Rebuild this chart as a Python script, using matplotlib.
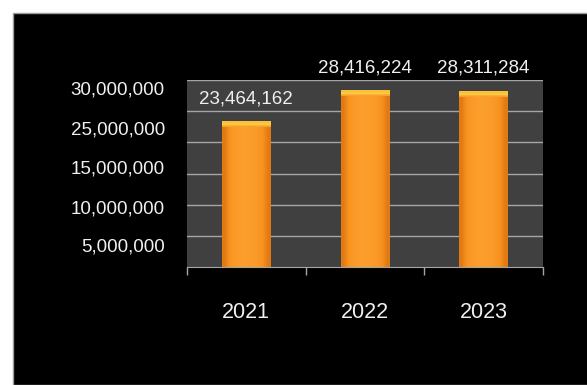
import matplotlib.pyplot as plt
from matplotlib.patches import Rectangle
from matplotlib.colors import LinearSegmentedColormap
import numpy as np

plt.rcParams['font.family'] = ['Liberation Sans', 'DejaVu Sans']

years = ['2021', '2022', '2023']
values = [23464162, 28416224, 28311284]
value_labels = ['23,464,162', '28,416,224', '28,311,284']
grid_levels = [5000000, 10000000, 15000000, 20000000, 25000000, 30000000]
# the y labels in the picture sit off the gridlines, read where they are drawn
ytick_pos = [28700000, 22300000, 16000000, 9600000, 3500000]
ytick_labels = ['30,000,000', '25,000,000', '15,000,000', '10,000,000', '5,000,000']

fig = plt.figure(figsize=(5.87, 3.85), dpi=100, facecolor='white')
fig.patches.append(Rectangle((13 / 587, 0), 1, 1 - 12.5 / 385, transform=fig.transFigure,
                             facecolor='black', edgecolor='#9a9a9a', linewidth=1, zorder=-10))

ax = fig.add_axes([187 / 587, 1 - 267 / 385, 356 / 587, 187 / 385])
ax.set_facecolor('#404040')

x = np.arange(len(years))
width = 0.41
bars = ax.bar(x, values, width=width, color='#f7931e', zorder=3)

# soft horizontal shading inside each bar
shade = np.array([[0.0, 0.6, 0.85, 1.0, 1.0, 0.95, 0.8, 0.5, 0.0]])
cmap = LinearSegmentedColormap.from_list('o', ['#e27a14', '#f7921f', '#fc9e2c'])
for b in bars:
    x0, y0 = b.get_x(), b.get_y()
    im = ax.imshow(shade, cmap=cmap, aspect='auto', interpolation='bilinear',
                   extent=[x0, x0 + b.get_width(), y0, y0 + b.get_height()], zorder=4)
    im.set_clip_path(b)

# yellow rounded top of each bar
cap = 1000000
cap_cmap = LinearSegmentedColormap.from_list('c', ['#f9a12c', '#ffd148', '#fbbf3a'])
caps = ax.bar(x, [cap] * len(values), bottom=[v - cap for v in values], width=width,
              color='none', zorder=5)
for b in caps:
    x0, y0 = b.get_x(), b.get_y()
    grad = np.array([[0.0], [0.6], [1.0], [0.85]])
    im = ax.imshow(grad, cmap=cap_cmap, aspect='auto', interpolation='bilinear', origin='lower',
                   extent=[x0, x0 + b.get_width(), y0, y0 + b.get_height()], zorder=5)
    im.set_clip_path(b)

for xi, v, lab in zip(x, values, value_labels):
    ax.annotate(lab, (xi, v), xytext=(0, 16), textcoords='offset points', ha='center',
                va='center', color='#f0f0f0', fontsize=13.5, annotation_clip=False)

ax.set_xlim(-0.5, 2.5)
ax.set_ylim(0, 30000000)

ax.set_yticks(grid_levels, minor=True)
ax.grid(axis='y', which='minor', color='#a6a6a6', linewidth=1, zorder=1)
ax.set_yticks(ytick_pos, ytick_labels)
ax.tick_params(axis='y', which='both', length=0, pad=16, labelsize=13.5, labelcolor='#f0f0f0')

ax.set_xticks(x, years)
ax.set_xticks([-0.5, 0.5, 1.5, 2.5], minor=True)
ax.tick_params(axis='x', which='major', length=0, pad=25, labelsize=15.5, labelcolor='#f0f0f0')
ax.tick_params(axis='x', which='minor', length=6, width=1, color='#a6a6a6', direction='out')

for s in ['left', 'right', 'top']:
    ax.spines[s].set_visible(False)
ax.spines['bottom'].set_color('#a6a6a6')
ax.spines['bottom'].set_zorder(6)

fig.savefig('out.png', dpi=100, facecolor='white')
